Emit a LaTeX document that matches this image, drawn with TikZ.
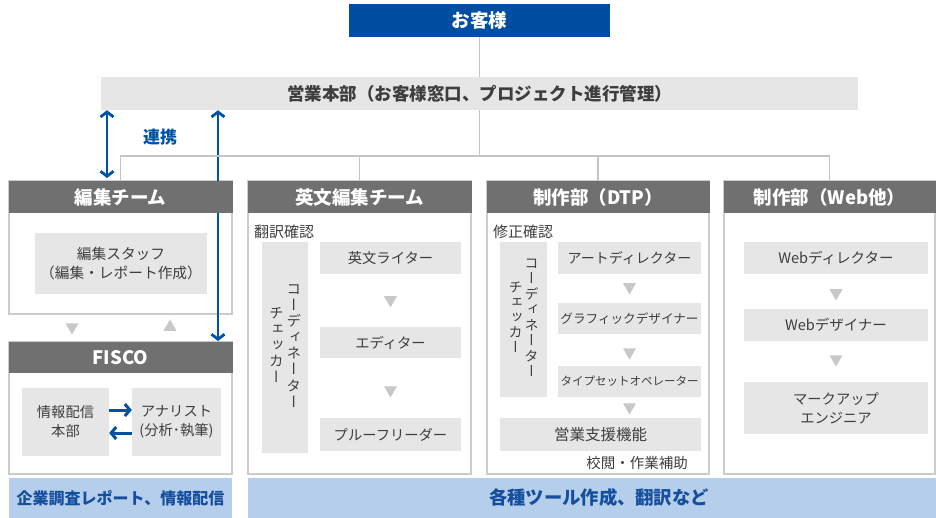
\documentclass[tikz,border=0pt]{standalone}
\usepackage{fontspec}
\setmainfont{Noto Sans CJK JP}
\newfontfamily\tatefont{Noto Sans CJK JP}[RawFeature=+vert]
\usetikzlibrary{arrows.meta,shapes.geometric}

\definecolor{custblue}{RGB}{0,78,162}
\definecolor{linkblue}{RGB}{0,82,164}
\definecolor{headgray}{RGB}{112,112,112}
\definecolor{boxgray}{RGB}{230,230,230}
\definecolor{framegray}{RGB}{204,204,204}
\definecolor{trigray}{RGB}{200,200,200}
\definecolor{linegray}{RGB}{196,196,196}
\definecolor{barblue}{RGB}{180,206,236}
\definecolor{bartext}{RGB}{22,78,158}
\definecolor{textgray}{RGB}{62,62,62}

\newcommand{\tatecol}[1]{\begin{tabular}[c]{@{}c@{}}#1\end{tabular}}

\begin{document}
\begin{tikzpicture}[x=1pt,y=-1pt,
        cell/.style={fill=boxgray,text=textgray,inner sep=0pt,align=center,font=\fontsize{14.3}{19}\selectfont},
        headbar/.style={fill=headgray,text=white,inner sep=0pt,minimum height=32pt,font=\bfseries\fontsize{18.5}{20}\selectfont},
        panel/.style={draw=framegray,line width=1.3pt,inner sep=0pt},
        tri/.style={fill=trigray,regular polygon,regular polygon sides=3,shape border rotate=180,minimum size=15pt,inner sep=0pt},
        conn/.style={draw=linegray,line width=1.8pt},
        link/.style={draw=linkblue,line width=2.8pt,{Straight Barb[length=5pt,width=13pt]}-{Straight Barb[length=5pt,width=13pt]}},
        feed/.style={draw=linkblue,line width=3pt,-{Straight Barb[length=5pt,width=12pt]}},
        band/.style={fill=barblue,text=bartext,inner sep=0pt,minimum height=40pt,font=\bfseries\fontsize{17}{20}\selectfont},
        note/.style={text=textgray,inner sep=0pt,font=\fontsize{14.5}{16}\selectfont}]
    \useasboundingbox (0,0) rectangle (936,518);

    \node[fill=custblue,text=white,minimum width=261pt,minimum height=33pt,inner sep=0pt,font=\bfseries\fontsize{18.5}{20}\selectfont] (cust) at (479.5,20.5) {お客様};
    \node[fill=boxgray,text=textgray,minimum width=757pt,minimum height=33pt,inner sep=0pt,font=\bfseries\fontsize{17.5}{20}\selectfont] (sales) at (479.5,93.5) {営業本部（お客様窓口、プロジェクト進行管理）};

    \begin{scope}[every node/.style={panel}]
        \node[minimum width=223pt,minimum height=133pt] (p1) at (120.5,247.5) {};
        \node[minimum width=223pt,minimum height=132pt] (pf) at (120.5,408) {};
        \node[minimum width=223pt,minimum height=293pt] (p2) at (359.5,327.5) {};
        \node[minimum width=222pt,minimum height=293pt] (p3) at (598,327.5) {};
        \node[minimum width=211pt,minimum height=293pt] (p4) at (829.5,327.5) {};
    \end{scope}

    \coordinate (l1) at (107,178);
    \coordinate (l2) at (218,341);
    \draw[link] (l1 |- sales.south) -- (l1);
    \draw[link] (l2 |- sales.south) -- (l2);
    \node[text=linkblue,font=\bfseries\fontsize{17}{20}\selectfont] (renkei) at (160,137) {連携};

    \begin{scope}[every node/.style={headbar}]
        \node[minimum width=224pt] (h1) at (120.5,197) {編集チーム};
        \node[minimum width=224pt,minimum height=31pt] (hf) at (120.5,357.5) {FISCO};
        \node[minimum width=224pt] (h2) at (359.5,197) {英文編集チーム};
        \node[minimum width=223pt] (h3) at (598,197) {制作部（DTP）};
        \node[minimum width=212pt] (h4) at (829.5,197) {制作部（Web他）};
    \end{scope}

    \coordinate (hub) at (479.5,156);
    \draw[conn] (cust) -- (sales);
    \draw[conn] (sales) -- (hub);
    \draw[conn] (h1.north) |- (hub);
    \draw[conn] (h2.north) |- (hub);
    \draw[conn] (h3.north) |- (hub);
    \draw[conn] (h4.north) |- (hub);

    \begin{scope}[every node/.style={cell}]
        \node[minimum width=172pt,minimum height=61pt,font=\fontsize{14.7}{19}\selectfont] (staff) at (121,263.5) {編集スタッフ\\（編集・レポート作成）};
        \node[minimum width=87pt,minimum height=68pt] (info) at (65.5,422) {情報配信\\本部};
        \node[minimum width=89pt,minimum height=68pt] (anal) at (176.5,422) {アナリスト\\(分析･執筆)};

        \node[minimum width=46pt,minimum height=211pt,font=\fontsize{14.5}{15.7}\selectfont] (coord2) at (285,347.5) {\tatefont\tatecol{チ\\ェ\\ッ\\カ\\ー}\hspace{3pt}\tatecol{コ\\ー\\デ\\ィ\\ネ\\ー\\タ\\ー}};
        \node[minimum width=141pt,minimum height=32pt] (writer) at (390.5,258) {英文ライター};
        \node[minimum width=141pt,minimum height=31pt] (editor) at (390.5,342.5) {エディター};
        \node[minimum width=141pt,minimum height=33pt] (proof) at (390.5,434.5) {プルーフリーダー};

        \node[minimum width=47pt,minimum height=155pt,font=\fontsize{14}{14.8}\selectfont] (coord3) at (523.5,319.5) {\tatefont\tatecol{チ\\ェ\\ッ\\カ\\ー}\hspace{2pt}\tatecol{コ\\ー\\デ\\ィ\\ネ\\ー\\タ\\ー}};
        \node[minimum width=143pt,minimum height=32pt,font=\fontsize{14}{16}\selectfont] (artdir) at (629.5,258) {アートディレクター};
        \node[minimum width=143pt,minimum height=31pt,font=\fontsize{12.6}{16}\selectfont] (graphic) at (629.5,318.5) {グラフィックデザイナー};
        \node[minimum width=143pt,minimum height=31pt,font=\fontsize{11.5}{16}\selectfont] (typeset) at (629.5,381.5) {タイプセットオペレーター};
        \node[minimum width=201pt,minimum height=33pt,font=\fontsize{15.5}{18}\selectfont] (support) at (600.5,434.5) {営業支援機能};

        \node[minimum width=184pt,minimum height=32pt,font=\fontsize{14.5}{18}\selectfont] (webdir) at (836,258) {Webディレクター};
        \node[minimum width=184pt,minimum height=32pt,font=\fontsize{14.5}{18}\selectfont] (webdes) at (836,325) {Webデザイナー};
        \node[minimum width=184pt,minimum height=52pt] (markup) at (836,408) {マークアップ\\エンジニア};
    \end{scope}

    \draw[feed] ([yshift=12pt]info.east) -- ([yshift=12pt]anal.west);
    \draw[feed] ([yshift=-11pt]anal.west) -- ([yshift=-11pt]info.east);

    \node[note,anchor=west,font=\fontsize{15}{16}\selectfont] (trans) at (254,232) {翻訳確認};
    \node[note,anchor=west,font=\fontsize{15}{16}\selectfont] (fix) at (493,232) {修正確認};
    \node[note] (proofing) at (637,463) {校閲・作業補助};

    \begin{scope}[every node/.style={tri}]
        \node (t1) at (72,327) {};
        \node[shape border rotate=0] (t2) at (170,327) {};
        \node (t3) at (390.5,300) {};
        \node (t4) at (390.5,390) {};
        \node (t5) at (629.5,287) {};
        \node (t6) at (629.5,352) {};
        \node (t7) at (629.5,407) {};
        \node (t8) at (836,293) {};
        \node (t9) at (836,359) {};
    \end{scope}

    \node[band,minimum width=223pt,font=\bfseries\fontsize{16}{20}\selectfont] (out1) at (120.5,498) {企業調査レポート、情報配信};
    \node[band,minimum width=688pt,font=\bfseries\fontsize{18.3}{20}\selectfont] (out2) at (592,498) {\hspace*{14pt}各種ツール作成、翻訳など};
\end{tikzpicture}
\end{document}
